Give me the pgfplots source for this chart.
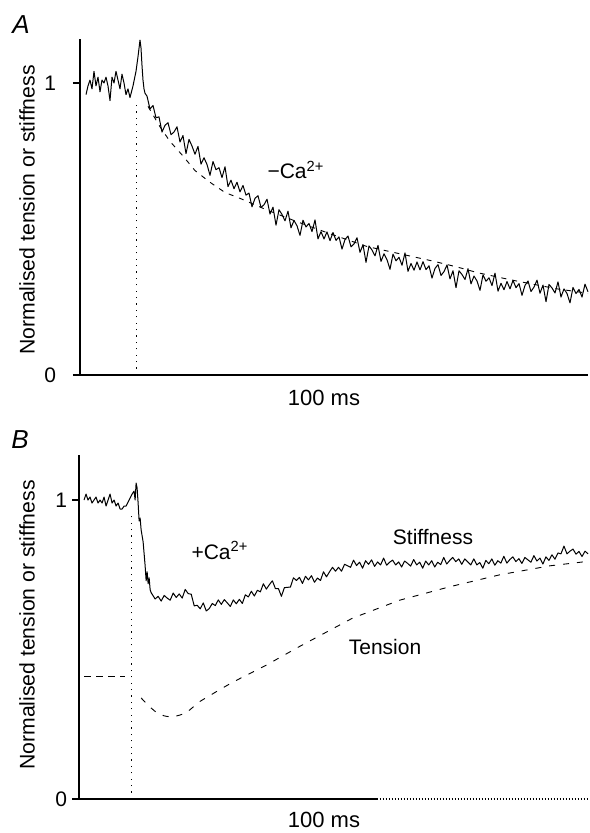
\documentclass[border=0pt]{standalone}
\usepackage{fontspec}
\setmainfont{Liberation Sans}
\usepackage{pgfplots}
\pgfplotsset{compat=1.18}

% x in both panels: pixels right of the y axis; y: normalised value
\pgfplotsset{
  panel/.style={
    scale only axis, clip=false,
    xmin=0, xmax=508, ymin=0, ymax=1.15,
    axis lines=left, axis line style={-, line width=0.6pt},
    xtick=\empty, ytick={0,1},
    tick align=outside, major tick length=3.5pt,
    tick style={line width=0.6pt, black},
    /pgf/number format/assume math mode=true,
    yticklabel style={font=\fontsize{10.5}{12}\selectfont},
  },
  trace/.style={black, line width=0.5pt, line join=round},
  fit/.style={black, line width=0.45pt, dash pattern=on 2.5pt off 3pt},
  marker/.style={black, line width=0.5pt, dash pattern=on 0.6pt off 2.6pt},
}

\begin{document}
\begin{tikzpicture}
\useasboundingbox (0,0) rectangle (294.5pt,-416.5pt);

% ---------------- panel A ----------------
\begin{axis}[panel, at={(40pt,-187.5pt)}, anchor=south west,
  width=254pt, height=167.9pt,
  yticklabel style={xshift=-5pt}]
\addplot[marker] coordinates {(56,0) (56,0.94)};
\addplot[fit] coordinates {
(68,0.92) (80,0.85) (90,0.80) (103,0.75) (115,0.70) (130,0.66) (145,0.625)
(160,0.605) (187,0.565) (217,0.525) (253,0.48) (287,0.44) (320,0.415)
(353,0.39) (377,0.37) (398,0.35) (432,0.325) (477,0.295) (508,0.28)};
\addplot[trace] coordinates {
(6,0.96) (8,0.99) (10,1.01) (12,0.98) (14,1.04) (16,0.99) (18,1.02) (20,0.97)
(22,1.01) (24,1.00) (26,1.02) (28,0.99) (30,0.94) (32,1.02) (34,1.00) (36,1.04)
(38,1.01) (40,0.98) (42,1.03) (44,1.00) (46,0.96) (48,0.98) (50,0.95) (53,0.99)
(56,1.04) (58,1.09) (60,1.147) (61,1.12) (62,1.06) (63,1.01) (64,0.98) (65,0.965)
(67,0.955) (70,0.911) (73,0.923) (76,0.881) (79,0.884) (82,0.832) (85,0.855)
(88,0.864) (91,0.823) (94,0.832) (97,0.850) (100,0.798) (103,0.820) (106,0.758)
(109,0.807) (112,0.784) (115,0.756) (118,0.783) (121,0.722) (124,0.744)
(127,0.721) (130,0.684) (133,0.731) (136,0.703) (139,0.710) (142,0.676)
(145,0.713) (148,0.645) (151,0.667) (154,0.638) (157,0.660) (160,0.627)
(163,0.649) (166,0.616) (169,0.623) (172,0.576) (175,0.605) (178,0.614)
(181,0.574) (184,0.583) (187,0.602) (190,0.551) (193,0.575) (196,0.513)
(199,0.566) (202,0.550) (205,0.528) (208,0.561) (211,0.504) (214,0.529)
(217,0.511) (220,0.478) (223,0.530) (226,0.507) (229,0.519) (232,0.491)
(235,0.531) (238,0.466) (241,0.491) (244,0.466) (247,0.490) (250,0.460)
(253,0.488) (256,0.461) (259,0.473) (262,0.431) (265,0.464) (268,0.476)
(271,0.439) (274,0.449) (277,0.470) (280,0.420) (283,0.446) (286,0.386)
(289,0.442) (292,0.428) (295,0.408) (298,0.444) (301,0.389) (304,0.415)
(307,0.395) (310,0.362) (313,0.414) (316,0.391) (319,0.403) (322,0.376)
(325,0.418) (328,0.355) (331,0.382) (334,0.359) (337,0.387) (340,0.360)
(343,0.388) (346,0.361) (349,0.374) (352,0.332) (355,0.365) (358,0.378)
(361,0.341) (364,0.354) (367,0.377) (370,0.329) (373,0.357) (376,0.299)
(379,0.357) (382,0.344) (385,0.327) (388,0.364) (391,0.312) (394,0.339)
(397,0.322) (400,0.290) (403,0.343) (406,0.321) (409,0.333) (412,0.306)
(415,0.349) (418,0.287) (421,0.314) (424,0.292) (427,0.320) (430,0.295)
(433,0.324) (436,0.299) (439,0.313) (442,0.273) (445,0.307) (448,0.322)
(451,0.286) (454,0.301) (457,0.325) (460,0.280) (463,0.308) (466,0.251)
(469,0.310) (472,0.298) (475,0.281) (478,0.319) (481,0.267) (484,0.295)
(487,0.279) (490,0.247) (493,0.300) (496,0.279) (499,0.293) (502,0.267)
(505,0.311) (508,0.285)};
\end{axis}

% ---------------- panel B ----------------
\begin{axis}[panel, at={(39.5pt,-399.5pt)}, anchor=south west,
  width=254.5pt, height=171.9pt,
  x axis line style={draw=none},
  yticklabel style={xshift=1pt}]
\addplot[black, line width=0.6pt] coordinates {(0,0) (297,0)};
\addplot[black, line width=0.6pt, dash pattern=on 0.6pt off 0.9pt] coordinates {(297,0) (508,0)};
\addplot[marker] coordinates {(52,0) (52,0.957)};
\addplot[black, line width=0.6pt, dash pattern=on 3.5pt off 2.5pt] coordinates {(5,0.41) (46,0.41)};
\addplot[black, line width=0.45pt, dash pattern=on 3pt off 4pt] coordinates {
(62,0.338) (70,0.31) (77,0.29) (85,0.278) (92,0.274) (100,0.28) (107,0.288)
(120,0.325) (130,0.345) (140,0.365) (153,0.39) (187,0.448) (220,0.51)
(273,0.605) (320,0.665) (370,0.71) (420,0.75) (470,0.78) (508,0.795)};
\addplot[trace] coordinates {
(5,1.00) (7,1.02) (9,1.00) (11,1.01) (13,0.99) (15,1.00) (17,1.01) (19,0.99)
(21,1.00) (23,0.99) (25,1.01) (27,0.98) (29,1.00) (31,1.02) (33,0.99) (35,1.00)
(37,0.98) (39,0.99) (41,0.97) (43,0.97) (45,0.98) (47,0.98) (50,1.00) (53,1.02)
(55,1.03) (56,1.00) (57,1.057) (58,1.04) (59,0.99) (60,0.93) (61,0.94) (62,0.90)
(63,0.88) (64,0.86) (65,0.82) (66,0.78) (67,0.73) (68,0.76) (69,0.72) (70,0.74)
(71,0.70) (72,0.69)
(73,0.685) (76,0.669) (79,0.678) (82,0.662) (85,0.681) (88,0.672) (91,0.665)
(94,0.689) (97,0.674) (100,0.686) (103,0.672) (106,0.701) (109,0.687)
(112,0.685) (115,0.646) (118,0.648) (121,0.636) (124,0.656) (127,0.629)
(130,0.637) (133,0.654) (136,0.647) (139,0.666) (142,0.651) (145,0.667)
(148,0.656) (151,0.644) (154,0.666) (157,0.653) (160,0.668) (163,0.654)
(166,0.683) (169,0.676) (172,0.695) (175,0.679) (178,0.698) (181,0.693)
(184,0.720) (187,0.702) (190,0.717) (193,0.730) (196,0.704) (199,0.704)
(202,0.678) (205,0.707) (208,0.708) (211,0.709) (214,0.740) (217,0.731)
(220,0.741) (223,0.721) (226,0.745) (229,0.733) (232,0.747) (235,0.725)
(238,0.739) (241,0.731) (244,0.760) (247,0.743) (250,0.760) (253,0.775)
(256,0.762) (259,0.775) (262,0.762) (265,0.785) (268,0.780) (271,0.775)
(274,0.799) (277,0.781) (280,0.792) (283,0.772) (286,0.797) (289,0.785)
(292,0.800) (295,0.778) (298,0.793) (301,0.783) (304,0.806) (307,0.782)
(310,0.792) (313,0.799) (316,0.783) (319,0.793) (322,0.776) (325,0.796)
(328,0.788) (331,0.779) (334,0.801) (337,0.783) (340,0.792) (343,0.772)
(346,0.796) (349,0.783) (352,0.797) (355,0.776) (358,0.792) (361,0.784)
(364,0.808) (367,0.786) (370,0.798) (373,0.808) (376,0.794) (379,0.803)
(382,0.785) (385,0.803) (388,0.793) (391,0.783) (394,0.803) (397,0.783)
(400,0.791) (403,0.772) (406,0.798) (409,0.787) (412,0.803) (415,0.782)
(418,0.797) (421,0.789) (424,0.812) (427,0.789) (430,0.801) (433,0.810)
(436,0.794) (439,0.804) (442,0.788) (445,0.808) (448,0.800) (451,0.792)
(454,0.814) (457,0.796) (460,0.806) (463,0.786) (466,0.810) (469,0.798)
(472,0.817) (475,0.802) (478,0.823) (481,0.820) (484,0.846) (487,0.820)
(490,0.829) (493,0.836) (496,0.819) (499,0.828) (502,0.811) (505,0.829)
(508,0.820)};
\end{axis}

% ---------------- text (positions in reference pixels) ----------------
\begin{scope}[x=0.5pt, y=-0.5pt, every node/.style={inner sep=0pt}]
\node at (21,25) {\fontsize{13}{15}\selectfont\itshape A};
\node at (20,440) {\fontsize{13}{15}\selectfont\itshape B};
\node[rotate=90] at (27,210) {\fontsize{10.6}{12}\selectfont Normalised tension or stiffness};
\node[rotate=90] at (27,625) {\fontsize{10.6}{12}\selectfont Normalised tension or stiffness};
\node at (324,398) {\fontsize{11}{13}\selectfont 100 ms};
\node at (324,820) {\fontsize{11}{13}\selectfont 100 ms};
\node at (296,170) {\fontsize{10.5}{12}\selectfont −Ca\textsuperscript{2+}};
\node at (220,550) {\fontsize{10.5}{12}\selectfont +Ca\textsuperscript{2+}};
\node at (433,537) {\fontsize{10.5}{12}\selectfont Stiffness};
\node at (385,647) {\fontsize{10.5}{12}\selectfont Tension};
\end{scope}
\end{tikzpicture}
\end{document}
